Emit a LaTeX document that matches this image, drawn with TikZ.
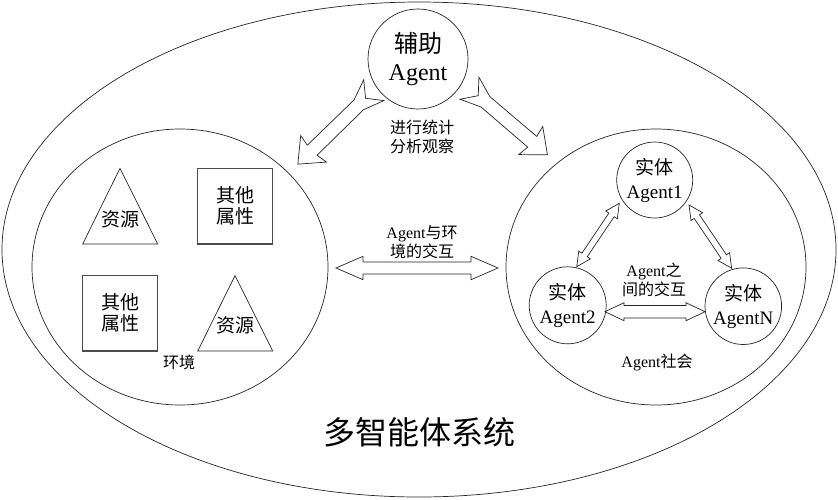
\documentclass[tikz,border=0pt]{standalone}
\usepackage{fontspec}
\setmainfont{Liberation Serif}
\newfontfamily\cjk{Noto Sans CJK SC}
\usetikzlibrary{calc,shapes.geometric}

\newcommand{\faprep}[2]{%
  \pgfmathanglebetweenpoints{\pgfpointanchor{#1}{center}}{\pgfpointanchor{#2}{center}}%
  \let\faang\pgfmathresult
  \pgfpointdiff{\pgfpointanchor{#1}{center}}{\pgfpointanchor{#2}{center}}%
  \pgfgetlastxy{\fadx}{\fady}%
  \pgfmathsetmacro{\falen}{veclen(\fadx,\fady)}}
% double fat arrow: from, to, shaft half width, head half width, head length
\newcommand{\fatdbl}[5]{%
  \faprep{#1}{#2}%
  \draw[fatline, shift={(#1)}, rotate=\faang]
   (0pt,0pt) -- (#5pt,#4pt) -- (#5pt,#3pt) -- ({\falen pt-#5pt},#3pt) -- ({\falen pt-#5pt},#4pt)
   -- (\falen pt,0pt) -- ({\falen pt-#5pt},-#4pt) -- ({\falen pt-#5pt},-#3pt) -- (#5pt,-#3pt)
   -- (#5pt,-#4pt) -- cycle;}
% notched single fat arrow: from (tail), to (tip)
\newcommand{\notcharrow}[2]{%
  \faprep{#1}{#2}%
  \draw[fatline, shift={(#1)}, rotate=\faang]
   (0pt,14.5pt) -- (21pt,6.8pt) -- ({\falen pt-20pt},7pt) -- ({\falen pt-22pt},18.5pt)
   -- (\falen pt,0pt) -- ({\falen pt-22pt},-18.5pt) -- ({\falen pt-20pt},-7pt)
   -- (21pt,-6.8pt) -- (0pt,-14.5pt) -- (11.5pt,0pt) -- cycle;}

\begin{document}
\begin{tikzpicture}[x=1pt,y=-1pt,
  thin line/.style={draw=black!85, line width=0.7pt},
  fatline/.style={draw=black!85, line width=0.7pt, fill=white, line join=miter},
  ellnode/.style={thin line, ellipse, inner sep=0pt, outer sep=0pt},
  circnode/.style={thin line, circle, inner sep=0pt, outer sep=0pt, align=center,
     font=\fontsize{19}{24}\selectfont},
  shp/.style={thin line, line join=miter},
  sqshape/.style={draw=black!70, line width=1.2pt},
  lbl/.style={align=center, inner sep=0pt, font=\fontsize{16}{19}\selectfont},
  inlbl/.style={align=center, inner sep=0pt, font=\fontsize{19}{21}\selectfont}]
\fill[white] (0,0) rectangle (838,499);
\useasboundingbox (0,0) rectangle (838,499);

% containers
\node[ellnode, minimum width=834pt, minimum height=495pt] (mas) at (419,249.5) {};
\node[ellnode, minimum width=296pt, minimum height=276pt] (env) at (180,267) {};
\node[ellnode, minimum width=300pt, minimum height=276pt] (soc) at (656,267) {};

% agents
\node[circnode, minimum size=100pt, font=\fontsize{24}{28}\selectfont] (aux) at (418,59)
  {{\cjk 辅助}\\Agent};
\node[circnode, minimum size=76pt] (ag1) at (654.7,180) {{\cjk 实体}\\Agent1};
\node[circnode, minimum size=77pt] (ag2) at (567.7,305.3) {{\cjk 实体}\\Agent2};
\node[circnode, minimum size=76.6pt] (agN) at (743.3,306.2) {{\cjk 实体}\\AgentN};

% environment contents
\draw[shp] (120,168.3) -- (157.7,244) -- (82.7,244) -- cycle;
\draw[sqshape] (197.7,168.3) rectangle (272.7,244);
\draw[sqshape] (82.7,275.7) rectangle (157.7,351);
\draw[shp] (235,275.7) -- (272.7,351) -- (197.7,351) -- cycle;
\node[inlbl] (res1) at (120.7,219.3) {\cjk 资源};
\node[inlbl] (oth1) at (235,205.5) {\cjk 其他\\\cjk 属性};
\node[inlbl] (oth2) at (120.7,312.8) {\cjk 其他\\\cjk 属性};
\node[inlbl] (res2) at (235.7,325.3) {\cjk 资源};

% labels
\node[lbl] (lab1) at (422,136.5) {\cjk 进行统计\\\cjk 分析观察};
\node[lbl] (lab2) at (422,242.5) {Agent{\cjk 与环}\\\cjk 境的交互};
\node[lbl] (lab3) at (654,280) {Agent{\cjk 之}\\\cjk 间的交互};
\node[lbl] (lab4) at (657,362) {Agent{\cjk 社会}};
\node[lbl] (lab5) at (179,362) {\cjk 环境};
\node[font=\cjk\fontsize{32}{36}\selectfont, inner sep=0pt] (title) at (419,432) {多智能体系统};

% arrow end points
\coordinate (tl0) at ($(aux.center)+(-44.2,31.2)$);
\coordinate (tl1) at (297.7,164.3);
\coordinate (tr0) at ($(aux.center)+(51.5,29.2)$);
\coordinate (tr1) at (547.7,155);
\coordinate (m0) at ($(env.east)+(8,1)$);
\coordinate (m1) at ($(soc.west)+(-8,1)$);
\coordinate (a12s) at ($(ag1.center)+(-35.4,23.3)$);
\coordinate (a12e) at ($(ag2.center)+(9,-38.6)$);
\coordinate (a1Ns) at ($(ag1.center)+(34.3,25)$);
\coordinate (a1Ne) at ($(agN.center)+(-11.6,-37.9)$);
\coordinate (a2Ns) at ($(ag2.center)+(37.3,6.4)$);
\coordinate (a2Ne) at ($(agN.center)+(-38.3,5.5)$);

% arrows
\notcharrow{tl0}{tl1}
\notcharrow{tr0}{tr1}
\fatdbl{m0}{m1}{6}{11.7}{27}
\fatdbl{a12s}{a12e}{3.2}{7}{14}
\fatdbl{a1Ns}{a1Ne}{3.2}{7}{14}
\fatdbl{a2Ns}{a2Ne}{6.2}{9}{19}
\end{tikzpicture}
\end{document}
